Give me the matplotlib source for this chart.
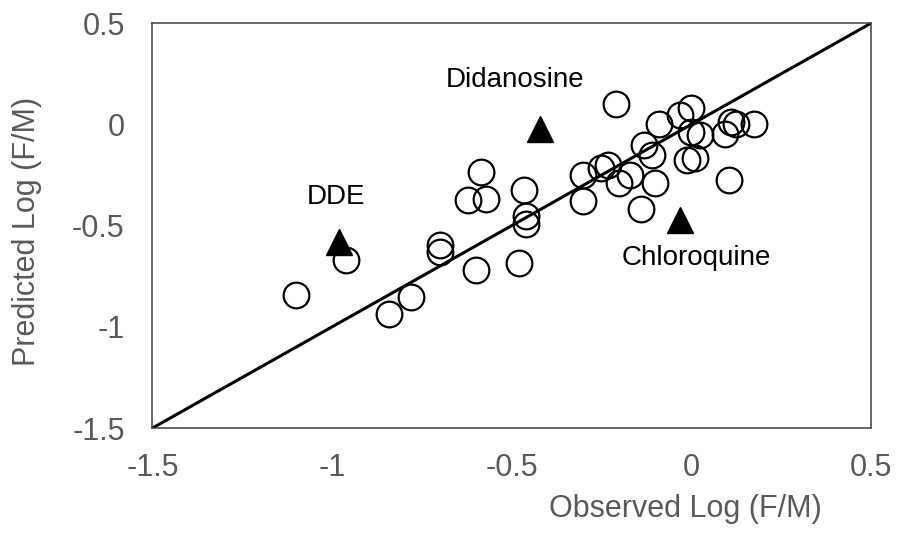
import matplotlib
matplotlib.use("Agg")
import matplotlib.pyplot as plt

# observed vs predicted log(F/M)
observed = [-1.10, -0.96, -0.70, -0.70, -0.78, -0.84, -0.60, -0.48,
            -0.585, -0.62, -0.57, -0.465, -0.46, -0.46,
            -0.21, -0.30, -0.30, -0.25, -0.23, -0.20, -0.17, -0.10, -0.14,
            -0.13, -0.11, -0.09, -0.03, 0.00, 0.00, 0.025, -0.01, 0.01,
            0.095, 0.11, 0.125, 0.175, 0.105]
predicted = [-0.84, -0.67, -0.595, -0.63, -0.85, -0.935, -0.72, -0.685,
             -0.235, -0.375, -0.37, -0.325, -0.45, -0.49,
             0.10, -0.25, -0.38, -0.215, -0.20, -0.29, -0.25, -0.29, -0.415,
             -0.10, -0.15, 0.005, 0.05, 0.08, -0.035, -0.05, -0.175, -0.165,
             -0.045, 0.015, 0.005, 0.005, -0.275]

# outliers highlighted with triangles
outlier_names = ["DDE", "Didanosine", "Chloroquine"]
outlier_obs = [-0.98, -0.42, -0.03]
outlier_pred = [-0.58, -0.02, -0.47]
label_x = [-0.99, -0.49, 0.015]
label_y = [-0.36, 0.22, -0.66]

xticks = [-1.5, -1, -0.5, 0, 0.5]
yticks = [-1.5, -1, -0.5, 0, 0.5]

plt.rcParams['font.family'] = ['Liberation Sans', 'DejaVu Sans']
gray = '#595959'

fig = plt.figure(figsize=(8.98, 5.54), dpi=100)
ax = fig.add_axes([0.1698, 0.2274, 0.7996, 0.7302])

ax.plot([-1.5, 0.5], [-1.5, 0.5], color='black', lw=2.2, zorder=2)
ax.plot(observed, predicted, 'o', ms=18.5, mfc='none', mec='black', mew=1.6, zorder=3)
ax.plot(outlier_obs, outlier_pred, '^', ms=19, color='black', mec='black', zorder=4)

for name, tx, ty in zip(outlier_names, label_x, label_y):
    ax.text(tx, ty, name, fontsize=20, ha='center', va='center', color='black')

ax.set_xlim(-1.5, 0.5)
ax.set_ylim(-1.5, 0.5)
ax.set_xticks(xticks)
ax.set_yticks(yticks)
ax.set_xticklabels([f"{v:g}" for v in xticks])
ax.set_yticklabels([f"{v:g}" for v in yticks])
ax.tick_params(axis='both', length=0, labelsize=22, labelcolor=gray)
ax.tick_params(axis='x', pad=18)
ax.tick_params(axis='y', pad=20)

for sp in ax.spines.values():
    sp.set_color('#404040')
    sp.set_linewidth(1.1)

ax.set_xlabel("Observed Log (F/M)", fontsize=22, color=gray)
ax.set_ylabel("Predicted Log (F/M)", fontsize=22, color=gray)
ax.xaxis.set_label_coords(0.742, -0.200)
ax.yaxis.set_label_coords(-0.175, 0.487)
ax.xaxis.label.set_va('center')
ax.yaxis.label.set_va('center')

fig.savefig("out.png", dpi=100)
